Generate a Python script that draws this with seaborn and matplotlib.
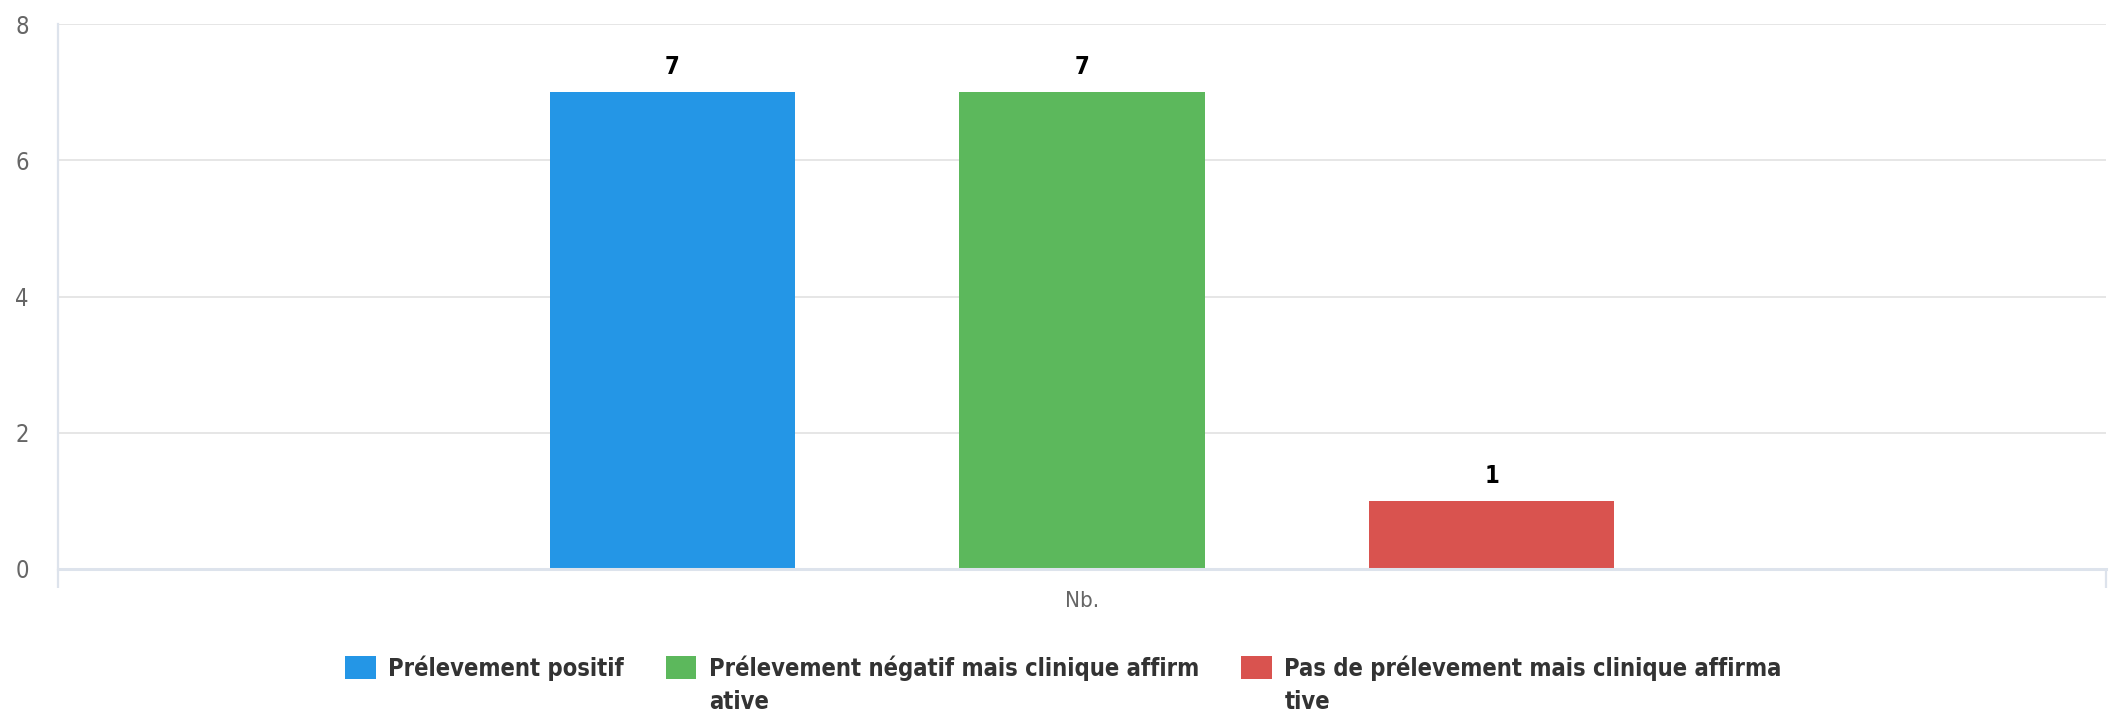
import pandas as pd
import seaborn as sns
import matplotlib.pyplot as plt
from matplotlib.patches import Patch
from matplotlib.text import Annotation

# Data
categories = ["Nb."]
series_names = [
    "Prélevement positif",
    "Prélevement négatif mais clinique affirmative",
    "Pas de prélevement mais clinique affirmative",
]
series_values = [7, 7, 1]
series_colors = ["#2496e6", "#5cb85c", "#d9534f"]
y_ticks = [0, 2, 4, 6, 8]

WRAP = 40  # legend labels wrap after 40 characters, as in the reference

df = pd.DataFrame({
    "categorie": categories * len(series_names),
    "serie": series_names,
    "valeur": series_values,
})

sns.set_style("white")
plt.rcParams["font.family"] = ["DejaVu Sans"]
plt.rcParams["font.stretch"] = "condensed"

W, H = 2114, 712
fig = plt.figure(figsize=(W / 100, H / 100), dpi=100)
ax = fig.add_axes([58 / W, 1 - 569 / H, (2106 - 58) / W, (569 - 24) / H])

sns.barplot(data=df, x="categorie", y="valeur", hue="serie",
            hue_order=series_names, palette=series_colors,
            width=0.6, gap=0.4, saturation=1, errorbar=None,
            linewidth=0, ax=ax)

# value labels above the bars
for cont in ax.containers:
    ax.bar_label(cont, padding=9.5, fontsize=17, fontweight="bold", color="black")

# y axis
ax.set_ylim(0, 8)
ax.set_yticks(y_ticks)
ax.yaxis.grid(True, color="#e6e6e6", linewidth=1.4)
ax.set_axisbelow(True)
ax.tick_params(axis="y", length=0, pad=21, labelsize=17, labelcolor="#666666")

# x axis: category label plus boundary tick marks
ax.set_xlim(-0.5, 0.5)
ax.set_xlabel("")
ax.set_ylabel("")
ax.set_xticks([-0.5, 0.5], minor=True)
ax.tick_params(axis="x", which="major", length=0, pad=16, labelsize=16,
               labelcolor="#666666")
ax.tick_params(axis="x", which="minor", length=14, width=1.6,
               color="#dde3ec", bottom=True)

axis_color = "#dde3ec"
for side in ["top", "right"]:
    ax.spines[side].set_visible(False)
ax.spines["bottom"].set_color(axis_color)
ax.spines["bottom"].set_linewidth(2.2)
ax.spines["left"].set_color(axis_color)
ax.spines["left"].set_linewidth(1.6)

# legend: first lines in the legend, continuation lines just below
ax.get_legend().remove()
handles = [Patch(facecolor=c, edgecolor="none") for c in series_colors]
first_lines = [name[:WRAP] for name in series_names]
leg_size = 17
leg = fig.legend(handles, first_lines, loc="center", bbox_to_anchor=(0.503, 0.062),
                 ncol=3, frameon=False, prop={"size": leg_size, "weight": "bold"},
                 handlelength=1.3, handleheight=1.15, handletextpad=0.55,
                 columnspacing=1.75, borderpad=0)
for txt in leg.get_texts():
    txt.set_color("#333333")

for txt, name in zip(leg.get_texts(), series_names):
    rest = name[WRAP:]
    if rest:
        ann = Annotation(rest, xy=(0, 1), xycoords=txt, xytext=(0, -25),
                         textcoords="offset points", ha="left", va="top",
                         fontsize=leg_size, fontweight="bold", color="#333333",
                         annotation_clip=False, zorder=10)
        fig.add_artist(ann)

fig.savefig("out.png", dpi=100)
